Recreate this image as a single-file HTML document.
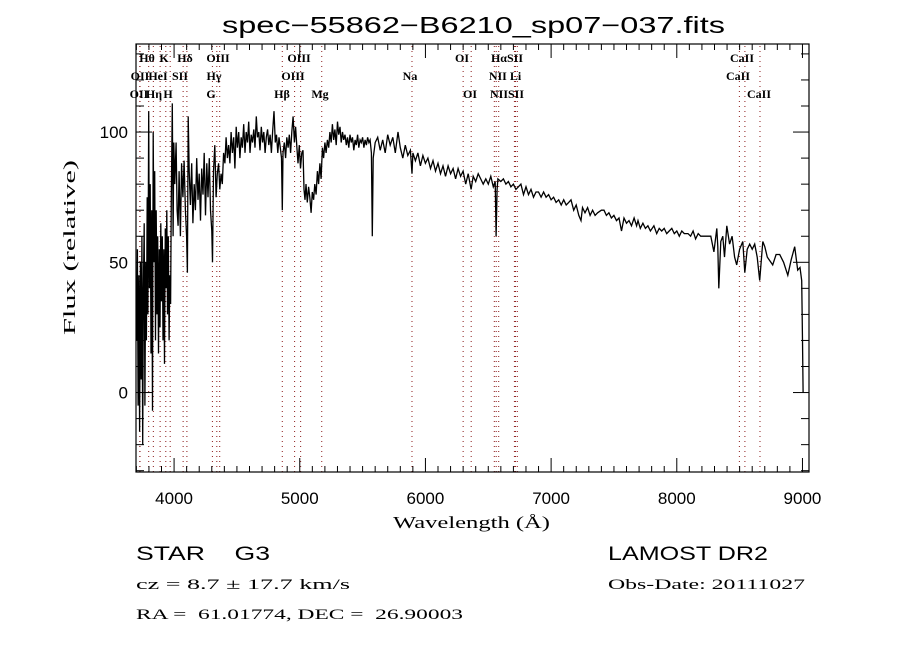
<!DOCTYPE html>
<html><head><meta charset="utf-8"><style>
html,body{margin:0;padding:0;background:#fff;}
svg{display:block;}
text{fill:#000;}
</style></head><body>
<svg id="chart" width="900" height="650" xmlns="http://www.w3.org/2000/svg">
<rect x="0" y="0" width="900" height="650" fill="#fff"/>
<text x="222" y="33" font-family="Liberation Sans, sans-serif" font-size="23" textLength="503" lengthAdjust="spacingAndGlyphs">spec−55862−B6210_sp07−037.fits</text>
<g id="lines"></g>
<g id="spec"></g>
<g id="axes"></g>
<text x="393" y="528" font-family="Liberation Serif, serif" font-size="17" textLength="157" lengthAdjust="spacingAndGlyphs">Wavelength (Å)</text>
<text transform="translate(75,335) rotate(-90)" font-family="Liberation Serif, serif" font-size="17" textLength="175" lengthAdjust="spacingAndGlyphs">Flux (relative)</text>
<text x="136" y="560" font-family="Liberation Sans, sans-serif" font-size="19" xml:space="preserve" textLength="134" lengthAdjust="spacingAndGlyphs">STAR    G3</text>
<text x="136" y="589" font-family="Liberation Serif, serif" font-size="15" textLength="214" lengthAdjust="spacingAndGlyphs">cz = 8.7 ± 17.7 km/s</text>
<text x="136" y="619" font-family="Liberation Serif, serif" font-size="15" xml:space="preserve" textLength="327" lengthAdjust="spacingAndGlyphs">RA =  61.01774, DEC =  26.90003</text>
<text x="608" y="560" font-family="Liberation Sans, sans-serif" font-size="19" textLength="160" lengthAdjust="spacingAndGlyphs">LAMOST DR2</text>
<text x="608" y="589" font-family="Liberation Serif, serif" font-size="15" textLength="197" lengthAdjust="spacingAndGlyphs">Obs-Date: 20111027</text>
</svg>
<script>
const wavelengths=[3702,3708,3714,3720,3726,3732,3738,3744,3750,3756,3762,3768,3774,3780,3786,3792,3798,3804,3810,3816,3822,3828,3834,3840,3846,3852,3858,3864,3870,3876,3882,3888,3894,3900,3906,3912,3918,3924,3930,3936,3942,3948,3954,3960,3966,3972,3978,3986,3992,3998,4006,4016,4024,4032,4040,4050,4060,4070,4080,4090,4100,4106,4112,4120,4130,4140,4150,4160,4170,4180,4190,4200,4210,4220,4230,4240,4250,4260,4270,4280,4290,4300,4306,4314,4324,4334,4344,4354,4364,4374,4384,4394,4404,4414,4424,4434,4444,4454,4464,4474,4484,4494,4504,4514,4524,4534,4544,4554,4564,4574,4584,4594,4604,4614,4624,4634,4644,4654,4664,4674,4684,4694,4704,4714,4724,4734,4744,4754,4764,4774,4784,4795,4805,4815,4825,4835,4845,4855,4861,4867,4877,4887,4897,4907,4917,4927,4937,4947,4957,4967,4977,4986,4996,5006,5016,5026,5034,5042,5050,5060,5070,5080,5090,5100,5110,5120,5130,5140,5150,5160,5170,5180,5190,5200,5210,5220,5230,5240,5250,5260,5270,5280,5290,5300,5310,5320,5330,5340,5350,5360,5370,5380,5390,5400,5410,5420,5430,5440,5450,5460,5470,5480,5490,5500,5510,5520,5530,5540,5550,5560,5570,5577,5584,5600,5620,5640,5660,5680,5700,5720,5740,5760,5782,5800,5820,5840,5860,5880,5893,5900,5920,5940,5960,5980,6000,6020,6040,6060,6080,6100,6120,6140,6160,6180,6200,6220,6240,6260,6280,6300,6320,6340,6363,6380,6400,6420,6440,6460,6480,6500,6520,6540,6555,6562,6570,6577,6600,6620,6640,6660,6680,6700,6720,6740,6760,6780,6800,6820,6840,6860,6880,6900,6920,6940,6960,6980,7000,7020,7040,7060,7080,7100,7120,7140,7158,7180,7200,7220,7238,7250,7270,7290,7310,7330,7350,7370,7400,7421,7440,7460,7480,7500,7520,7540,7560,7580,7600,7620,7640,7660,7680,7691,7710,7730,7750,7770,7790,7818,7840,7860,7880,7900,7920,7940,7960,7980,8000,8020,8040,8060,8089,8110,8130,8150,8170,8190,8216,8240,8271,8295,8318,8326,8334,8350,8366,8380,8398,8420,8440,8460,8477,8500,8525,8541,8560,8580,8600,8620,8640,8660,8684,8700,8720,8763,8790,8819,8850,8883,8910,8938,8962,8980,8994,9000,9005];
const fluxes=[20,55,-5,45,-15,50,5,60,-20,40,65,-5,50,20,75,30,108,40,80,15,70,-7,100,50,85,20,70,30,60,15,55,25,65,35,60,20,55,11,63,40,70,30,60,20,45,34,75,111,60,96,80,96,70,64,85,60,88,75,89,70,60,46,106,85,72,88,65,80,70,90,74,84,66,86,76,92,68,88,75,90,70,62,50,85,95,75,84,88,78,84,80,92,88,98,90,95,88,100,92,98,86,102,94,100,90,98,94,103,92,100,96,104,92,99,96,101,94,106,98,100,93,102,96,100,92,98,101,95,99,92,100,108,96,99,92,98,94,90,70,92,96,90,98,94,99,92,100,106,96,102,94,88,95,86,92,93,78,74,80,73,79,75,69,77,74,80,76,85,80,88,82,94,90,96,92,97,94,100,96,103,97,101,95,104,99,102,96,100,97,99,95,98,94,99,96,98,93,97,95,99,94,97,96,98,94,97,95,98,96,97,92,60,90,96,98,93,97,92,99,95,98,92,100,94,90,95,91,93,84,92,89,92,87,91,88,90,86,89,85,88,84,87,83,87,84,86,82,86,83,85,80,84,78,83,81,84,82,80,82,80,83,79,81,60,78,82,81,82,80,81,79,80,78,79,80,76,79,76,78,75,77,77,75,77,75,76,74,75,73,74,72,74,72,73,74,70,72,68,66,71,69,71,68,70,68,69,70,70,68,69,67,68,66,67,62,67,65,66,64,67,64,66,63,65,63,64,62,64,61,63,62,63,61,62,63,61,62,60,62,61,61,60,62,59,61,60,60,60,60,54,63,56,40,58,60,52,64,57,60,52,49,55,58,46,55,57,55,57,52,43,58,56,52,49,53,53,50,45,51,56,47,48,43,20,0];
const xTicks=[4000,5000,6000,7000,8000,9000];
const yTicks=[0,50,100];
const lineWaves=[3727,3729,3798,3835,3889,3934,3969,4072,4102,4305,4340,4363,4861,4959,5007,5175,5893,6300,6364,6548,6563,6583,6708,6717,6731,8498,8542,8662];
const lineLabelsRow1=["Hθ","K","Hδ","OIII","OIII","OI","HαSII","CaII"];
const lineLabelsRow2=["OII","HeI","SII","Hγ","OIII","Na","NII Li","CaII"];
const lineLabelsRow3=["OII","Hη","H","G","Hβ","Mg","OI","NIISII","CaII"];
const L=136,R=809,T=44,B=472;
const X0=3697,X1=9052,Y0=-30.5,Y1=133.8;
const NS='http://www.w3.org/2000/svg';
function sx(w){return L+(w-X0)/(X1-X0)*(R-L);}
function sy(f){return B-(f-Y0)/(Y1-Y0)*(B-T);}
function mk(tag,attrs,parent){const e=document.createElementNS(NS,tag);for(const k in attrs)e.setAttribute(k,attrs[k]);parent.appendChild(e);return e;}
const gl=document.getElementById('lines');
lineWaves.forEach(w=>{
  const l=mk('line',{x1:sx(w),x2:sx(w),y1:T+2,y2:B,stroke:'#8b1a1a','stroke-width':1,'stroke-dasharray':'1,4'},gl);
  
  
});
const labelPos=[[147,164,185,218,299,462,507,742],[140,158,180,214,293,410,505,738],[139,154,168,211,282,320,470,507,759]];
[lineLabelsRow1,lineLabelsRow2,lineLabelsRow3].forEach((row,i)=>{
  row.forEach((t,j)=>{
    const e=mk('text',{x:labelPos[i][j],y:62+i*18,'font-family':'Liberation Serif, serif','font-size':12,'font-weight':'bold','text-anchor':'middle'},gl);
    e.textContent=t;
    
    
  });
});
const gs=document.getElementById('spec');
let d='';
wavelengths.forEach((w,i)=>{d+=(i?'L':'M')+sx(w).toFixed(1)+','+sy(fluxes[i]).toFixed(1);});
const p=mk('path',{d:d,fill:'none',stroke:'#000','stroke-width':1.3,'stroke-linejoin':'miter'},gs);


const ga=document.getElementById('axes');
mk('rect',{x:L,y:T,width:R-L,height:B-T,fill:'none',stroke:'#000','stroke-width':1.2},ga);
for(let w=3700;w<=9000;w+=100){
  const major=w%1000===0, len=major?14:6;
  mk('line',{x1:sx(w),x2:sx(w),y1:B,y2:B-len,stroke:'#000'},ga);
  mk('line',{x1:sx(w),x2:sx(w),y1:T,y2:T+len,stroke:'#000'},ga);
}
for(let f=-30;f<=130;f+=10){
  const major=f%50===0, len=major?16:8;
  mk('line',{x1:L,x2:L+len,y1:sy(f),y2:sy(f),stroke:'#000'},ga);
  mk('line',{x1:R,x2:R-len,y1:sy(f),y2:sy(f),stroke:'#000'},ga);
}
xTicks.forEach(w=>{
  const e=mk('text',{x:sx(w),y:504,'font-family':'Liberation Sans, sans-serif','font-size':17,'text-anchor':'middle'},ga);
  e.textContent=w;
  
  
});
yTicks.forEach(f=>{
  const e=mk('text',{x:128,y:sy(f)+6,'font-family':'Liberation Sans, sans-serif','font-size':17,'text-anchor':'end'},ga);
  e.textContent=f;
  
  
});
</script>
</body></html>
